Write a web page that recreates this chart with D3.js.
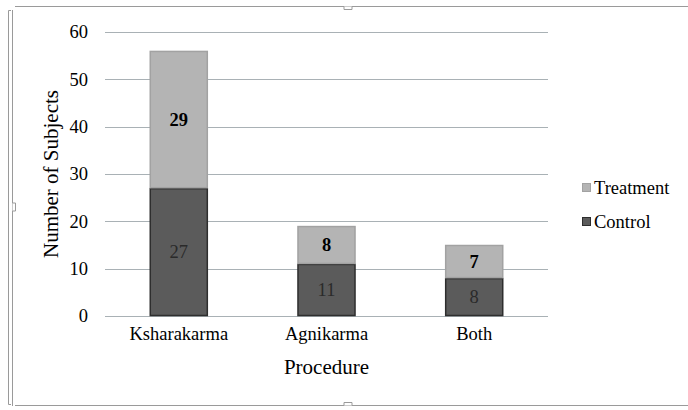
<!DOCTYPE html>
<html>
<head>
<meta charset="utf-8">
<script src="https://cdn.jsdelivr.net/npm/d3@7"></script>
<style>
  body { margin: 0; background: #fff; }
  text { font-family: "Liberation Serif", "Times New Roman", serif; }
</style>
</head>
<body>
<svg id="chart" width="688" height="410"></svg>
<script>
// data
var procedures = ["Ksharakarma", "Agnikarma", "Both"];
var control = [27, 11, 8];
var treatment = [29, 8, 7];
var seriesNames = ["Control", "Treatment"];
var yTicks = [0, 10, 20, 30, 40, 50, 60];

var svg = d3.select("#chart");

var margin = {left: 105, right: 140, top: 32, bottom: 94}
  , width = 688 - margin.left - margin.right
  , height = 410 - margin.top - margin.bottom;

var colors = {Control: "#5b5b5b", Treatment: "#b4b4b4"};
var strokes = {Control: "#2e2e2e", Treatment: "#a2a2a2"};
var serif = "'Liberation Serif', 'Times New Roman', serif";

// frame (looks like a pasted word figure)
var frame = svg.append("g").attr("fill", "none").attr("stroke", "#9a9a9a");
frame.append("line").attr("x1", 15).attr("x2", 688).attr("y1", 6.5).attr("y2", 6.5);
frame.append("line").attr("x1", 15).attr("x2", 688).attr("y1", 405.5).attr("y2", 405.5);
frame.append("line").attr("x1", 12.5).attr("x2", 12.5).attr("y1", 10).attr("y2", 406);
frame.append("path").attr("d", "M11,10.5H8.5V404.5H11");
frame.append("path").attr("d", "M344,6.5v3h8v-3").attr("fill", "#fff");
frame.append("path").attr("d", "M344,405.5v-3h8v3").attr("fill", "#fff");
frame.append("path").attr("d", "M12.5,203h3v8h-3").attr("fill", "#fff");

var g = svg.append("g").attr("transform", "translate(" + margin.left + "," + margin.top + ")");

var x = d3.scaleBand()
  .domain(procedures)
  .range([0, width])
  .paddingInner(0.607)
  .paddingOuter(0.303);

var y = d3.scaleLinear()
  .domain([0, 60])
  .range([height, 0]);

// gridlines
g.selectAll(".grid")
  .data(yTicks)
  .enter()
  .append("line")
  .attr("x1", 0).attr("x2", width)
  .attr("y1", d => Math.round(y(d)) + 0.5)
  .attr("y2", d => Math.round(y(d)) + 0.5)
  .attr("stroke", "#a9b1b5")
  .attr("stroke-width", 1.2);

// y labels
var yAxis = d3.axisLeft(y).tickValues(yTicks).tickSize(0).tickPadding(17);
g.append("g").call(yAxis)
  .attr("font-family", serif)
  .attr("font-size", 18.5)
  .call(a => a.select(".domain").remove())
  .selectAll("text")
  .attr("fill", "#000");

// x labels
var xAxis = d3.axisBottom(x).tickSize(0).tickPadding(11);
g.append("g").attr("transform", "translate(0," + height + ")").call(xAxis)
  .attr("font-family", serif)
  .attr("font-size", 18.5)
  .call(a => a.select(".domain").remove())
  .selectAll("text")
  .attr("fill", "#000");

// stack
var rows = procedures.map((p, i) => ({procedure: p, Control: control[i], Treatment: treatment[i]}));
var stack = d3.stack().keys(seriesNames)(rows);

var layers = g.selectAll(".layer")
  .data(stack)
  .enter()
  .append("g")
  .attr("class", "layer");

layers.selectAll("rect")
  .data(d => d.map(v => ({key: d.key, v: v})))
  .enter()
  .append("rect")
  .attr("x", d => x(d.v.data.procedure) + 0.5)
  .attr("width", x.bandwidth() - 1)
  .attr("y", d => y(d.v[1]) + 0.5)
  .attr("height", d => y(d.v[0]) - y(d.v[1]) - 1)
  .attr("fill", d => colors[d.key])
  .attr("stroke", d => strokes[d.key])
  .attr("stroke-width", 1.5);

// value labels
layers.selectAll("text")
  .data(d => d.map(v => ({key: d.key, v: v})))
  .enter()
  .append("text")
  .attr("x", d => x(d.v.data.procedure) + x.bandwidth() / 2)
  .attr("y", d => (y(d.v[0]) + y(d.v[1])) / 2 + 6)
  .attr("text-anchor", "middle")
  .attr("font-size", 18.5)
  .attr("fill", d => d.key == "Control" ? "#2a2a2a" : "#000")
  .attr("font-weight", d => d.key == "Control" ? "normal" : "bold")
  .text(d => d.v.data[d.key]);

// axis titles
svg.append("text")
  .attr("transform", "translate(58," + (margin.top + height / 2) + ") rotate(-90)")
  .attr("text-anchor", "middle")
  .attr("font-size", 21)
  .text("Number of Subjects");

svg.append("text")
  .attr("x", margin.left + width / 2)
  .attr("y", 374)
  .attr("text-anchor", "middle")
  .attr("font-size", 21)
  .text("Procedure");

// legend
var legend = svg.append("g").attr("transform", "translate(582,0)");
var legendItems = ["Treatment", "Control"];
legend.selectAll("rect")
  .data(legendItems)
  .enter()
  .append("rect")
  .attr("x", 0.5)
  .attr("y", (d, i) => 183.5 + i * 34)
  .attr("width", 8)
  .attr("height", 8)
  .attr("fill", d => colors[d])
  .attr("stroke", d => strokes[d]);

legend.selectAll("text")
  .data(legendItems)
  .enter()
  .append("text")
  .attr("x", 12)
  .attr("y", (d, i) => 194 + i * 34)
  .attr("font-size", 18.5)
  .text(d => d);
</script>
</body>
</html>
